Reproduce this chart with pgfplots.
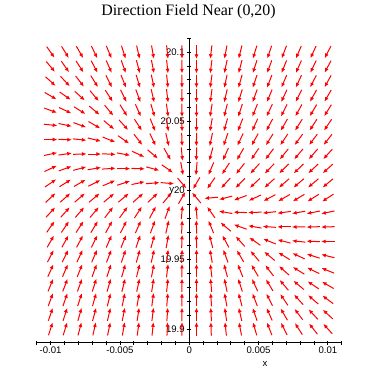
\documentclass[border=0pt]{standalone}
\usepackage{fontspec}
\setmainfont{Liberation Serif}
\newfontfamily\sansf{Liberation Sans}
\usepackage{pgfplots}
\pgfplotsset{compat=1.18}
\usepackage{pgfplotstable}
\usetikzlibrary{arrows.meta}

% angle (degrees, as seen on the page) of the arrow at each grid point
\pgfplotstableread{
y a0 a1 a2 a3 a4 a5 a6 a7 a8 a9 a10 a11 a12 a13 a14 a15 a16 a17 a18 a19
20.1000 -55 -58 -60 -64 -67 -72 -77 -80 -84 -89 -90 -97 -101 -104 -107 -109 -111 -113 -115 -117
20.0895 -50 -55 -57 -62 -66 -70 -75 -79 -84 -89 -90 -97 -102 -105 -108 -110 -112 -114 -116 -118
20.0789 -42 -47 -52 -58 -63 -68 -73 -78 -84 -89 -90 -98 -102 -106 -109 -111 -113 -115 -117 -119
20.0684 -30 -35 -42 -50 -57 -64 -70 -77 -83 -89 -90 -98 -103 -107 -110 -113 -115 -117 -119 -120
20.0579 -20 -25 -32 -40 -50 -58 -66 -74 -82 -89 -90 -99 -104 -108 -112 -115 -117 -119 -121 -122
20.0474 -6 -12 -20 -30 -40 -48 -57 -68 -80 -88 -90 -100 -106 -111 -115 -118 -120 -122 -123 -124
20.0368 0 -2 -6 -14 -22 -35 -52 -65 -77 -88 -91 -102 -109 -115 -119 -122 -124 -126 -127 -128
20.0263 12 8 2 0 -3 -10 -25 -40 -60 -85 -92 -105 -114 -120 -124 -127 -129 -130 -131 -132
20.0158 25 20 15 10 4 0 -2 -15 -35 -80 -95 -113 -123 -128 -132 -134 -135 -136 -137 -138
20.0053 34 32 30 27 23 18 12 5 -5 -50 -120 -125 -132 -135 -137 -138 -139 -140 -140 -140
19.9947 43 42 41 40 40 40 41 43 50 60 130 185 195 200 205 208 210 211 212 213
19.9842 47 48 49 50 52 54 57 62 70 85 95 125 170 178 182 186 188 190 191 192
19.9737 55 56 57 59 61 63 66 70 77 87 92 112 140 160 170 176 180 181 182 182
19.9632 60 61 62 64 66 68 71 75 80 88 91 104 118 132 145 158 166 174 178 180
19.9526 63 64 65 67 69 71 74 77 82 88 90 100 110 120 130 140 148 155 162 166
19.9421 66 67 68 70 72 74 76 79 83 89 90 97 105 112 120 127 138 148 154 158
19.9316 68 69 70 72 74 76 78 81 84 89 90 95 102 108 115 121 130 140 146 150
19.9211 70 71 72 74 76 78 80 82 85 89 90 94 100 105 111 117 124 132 139 143
19.9105 71 72 74 75 77 79 81 83 86 89 90 93 98 103 109 114 120 127 133 137
19.9000 72 73 75 77 78 80 82 84 87 89 90 92 96 101 106 111 117 123 128 132
}\field

% one column of arrows: #1 = column index, #2 = x value
\newcommand{\fcol}[2]{%
  \addplot[red, line width=1bp, -{Latex[length=4.6bp,width=4bp]},
    quiver={u={0.00097376*cos(\thisrow{a#1})}, v={0.0097565*sin(\thisrow{a#1})}}]
    table[x expr={#2-0.00048688*cos(\thisrow{a#1})},
          y expr={\thisrow{y}-0.00487825*sin(\thisrow{a#1})}]{\field};
}

\begin{document}
\begin{tikzpicture}
\path[use as bounding box] (0,0) rectangle (379bp,379bp);
\node[anchor=base, font=\fontsize{16}{19}\selectfont] at (188.5bp,363.5bp) {Direction Field Near (0,20)};
\begin{axis}[
  at={(36.7bp,36.3bp)}, anchor=south west,
  scale only axis, width=305bp, height=304.4bp,
  xmin=-0.011, xmax=0.011, ymin=19.89, ymax=20.11,
  axis x line=bottom, axis y line=center,
  axis line style={-, line width=0.9bp, black},
  hide obscured x ticks=false, hide obscured y ticks=false,
  scaled x ticks=false, scaled y ticks=false,
  xtick={-0.01,-0.005,0,0.005,0.01},
  xticklabels={-0.01,-0.005,0,0.005,0.01},
  minor xtick={-0.011,-0.009,-0.008,-0.007,-0.006,-0.004,-0.003,-0.002,-0.001,0.001,0.002,0.003,0.004,0.006,0.007,0.008,0.009,0.011},
  ytick={19.9,19.95,20,20.05,20.1},
  yticklabels={19.9,19.95,20,20.05,20.1},
  minor ytick={19.89,19.91,19.92,19.93,19.94,19.96,19.97,19.98,19.99,20.01,20.02,20.03,20.04,20.06,20.07,20.08,20.09,20.11},
  tick align=center, major tick length=4bp, minor tick length=4bp,
  tick style={black, line width=0.7bp},
  xticklabel style={font=\sansf\fontsize{9.6}{11}\selectfont, yshift=0bp, inner sep=2bp},
  yticklabel style={font=\sansf\fontsize{9.6}{11}\selectfont, xshift=1bp},
  xlabel={x}, ylabel={y},
  every axis x label/.style={at={(axis description cs:0.7485,-0.071)}, anchor=center, inner sep=1bp, font=\sansf\fontsize{9.6}{11}\selectfont},
  every axis y label/.style={at={(axis description cs:0.443,0.497)}, anchor=center, font=\sansf\fontsize{9.6}{11}\selectfont},
  clip=false,
]
\fcol{0}{-0.010000}
\fcol{1}{-0.008947}
\fcol{2}{-0.007895}
\fcol{3}{-0.006842}
\fcol{4}{-0.005789}
\fcol{5}{-0.004737}
\fcol{6}{-0.003684}
\fcol{7}{-0.002632}
\fcol{8}{-0.001579}
\fcol{9}{-0.000526}
\fcol{10}{0.000526}
\fcol{11}{0.001579}
\fcol{12}{0.002632}
\fcol{13}{0.003684}
\fcol{14}{0.004737}
\fcol{15}{0.005789}
\fcol{16}{0.006842}
\fcol{17}{0.007895}
\fcol{18}{0.008947}
\fcol{19}{0.010000}
\end{axis}
\end{tikzpicture}
\end{document}
